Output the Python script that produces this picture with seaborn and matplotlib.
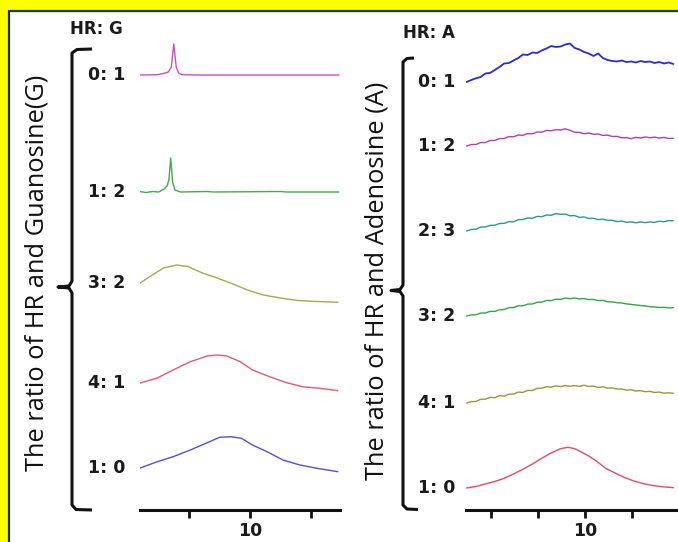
import matplotlib
matplotlib.use("Agg")
import matplotlib.pyplot as plt
from matplotlib.lines import Line2D
import numpy as np
import pandas as pd
import seaborn as sns

# ---------------- data ----------------
# HR : Guanosine (G) panel, 2-theta positions and intensities (a.u.)
g_labels = ["0: 1", "1: 2", "3: 2", "4: 1", "1: 0"]
g_offsets = [435, 318, 227, 127, 42]
g_colors = ["#c84ec8", "#4aa84a", "#a8a850", "#e25a6a", "#5050d8"]

g01_x = [1.0, 2.4, 2.9, 3.3, 3.55, 3.75, 3.95, 4.15, 4.4, 6.0, 17.3]
g01_y = [0, 0.3, 1.5, 3, 8, 31, 8, 2, 0.3, 0, 0]

g12_x = [1.0, 1.5, 2.0, 2.5, 2.9, 3.2, 3.35, 3.5, 3.65, 3.85, 4.3, 6.5, 7.0, 12.5, 13.0, 17.3]
g12_y = [0.3, -0.5, 0.5, 0, 2.5, 6, 12, 34, 10, 2, 0, 0.5, 0, 0.5, 0, 0]

g32_x = [1.0, 1.8, 2.9, 4.0, 4.9, 6.1, 7.3, 8.4, 9.8, 11.1, 12.5, 13.9, 15.5, 17.2]
g32_y = [0, 6.5, 15, 18, 16.5, 10, 5, 0, -7, -12, -15, -17.5, -18.5, -19.3]

g41_x = [1.0, 2.4, 3.7, 5.1, 6.5, 7.3, 8.1, 9.2, 10.2, 11.6, 13.0, 14.3, 15.7, 17.2]
g41_y = [0, 5, 13, 21.3, 27, 28, 27, 21.3, 13, 6.3, 0.3, -3.7, -5.3, -7.7]

g10_x = [1.0, 2.4, 3.7, 5.1, 6.5, 7.5, 8.4, 9.3, 10.2, 11.4, 12.7, 14.1, 15.5, 17.2]
g10_y = [0, 6.3, 11.3, 18, 25.3, 30.7, 31.3, 29.7, 23, 16.3, 8, 3, -0.3, -3.7]

g_series = [(g01_x, g01_y), (g12_x, g12_y), (g32_x, g32_y), (g41_x, g41_y), (g10_x, g10_y)]
g_ticks = [5, 10, 15]

# HR : Adenosine (A) panel
a_labels = ["0: 1", "1: 2", "2: 3", "3: 2", "4: 1", "1: 0"]
a_offsets = [428, 364, 279, 194, 107, 22]
a_colors = ["#2a2ad6", "#b23cb2", "#2a9a8e", "#34a448", "#98983a", "#e44a66"]
a_widths = [1.3, 1.0, 1.0, 1.0, 1.0, 1.0]

a_x = [3.7, 3.95, 4.2, 4.45, 4.7, 4.95, 5.2, 5.45, 5.7, 5.95, 6.2, 6.45, 6.7, 6.95, 7.2,
       7.45, 7.7, 7.95, 8.2, 8.45, 8.7, 8.95, 9.2, 9.45, 9.7, 9.95, 10.2, 10.45, 10.7, 10.95,
       11.2, 11.45, 11.7, 11.95, 12.2, 12.45, 12.7, 12.95, 13.2, 13.45, 13.7, 13.95, 14.2,
       14.45, 14.7]
a01_y = [0, 2, 3.7, 5, 8.5, 9, 12, 15, 18.5, 19, 21.5, 24, 27.5, 27, 29.5, 29, 31.5, 33.5,
         36, 35, 35.5, 37.5, 38.5, 34, 32.5, 30, 28.5, 26, 28.5, 24, 22, 21, 20.5, 21.5, 20,
         20.5, 19.5, 21, 20, 20.5, 19, 20, 18.5, 19.5, 18]
a12_y = [0, 1.5, 1.5, 3.5, 3.4, 5.5, 5.5, 7.4, 7.5, 9.4, 9.2, 11.0, 10.7, 12.4, 12.2, 13.9,
         13.9, 15.6, 15.2, 16.4, 16.0, 17.2, 15.6, 13.8, 13.6, 12.3, 12.9, 11.7, 12.0, 10.6,
         10.9, 9.5, 9.6, 8.2, 8.4, 7.3, 8.6, 8.0, 9.0, 8.2, 8.9, 7.9, 8.6, 7.5, 7.7]
a23_y = [0, 1.6, 1.8, 3.9, 4.1, 5.6, 5.7, 7.5, 7.6, 9.4, 9.2, 11.3, 11.5, 13.0, 12.7, 14.6,
         14.3, 16.0, 15.7, 17.4, 16.7, 16.9, 15.2, 15.4, 13.6, 14.0, 12.5, 12.7, 11.4, 11.8,
         10.6, 10.7, 9.4, 9.9, 8.7, 9.1, 8.2, 9.0, 8.4, 9.0, 8.6, 9.8, 9.2, 10.4, 10.2]
a32_y = [0, 1.1, 1.2, 2.9, 3.0, 4.6, 4.6, 6.2, 6.5, 8.3, 8.5, 10.2, 10.2, 11.9, 12.0, 13.7,
         13.9, 15.5, 15.4, 16.8, 16.6, 17.9, 17.3, 18.0, 17.1, 17.4, 16.5, 16.5, 15.4, 15.6,
         14.3, 14.1, 13.3, 13.0, 12.1, 11.6, 11.0, 10.5, 10.0, 9.3, 9.1, 8.5, 8.7, 8.1, 8.4]
a41_y = [0, 1.3, 1.6, 3.7, 3.9, 5.6, 5.3, 7.2, 6.9, 8.7, 8.9, 10.9, 10.6, 12.6, 12.5, 14.6,
         14.8, 16.3, 15.8, 17.2, 16.4, 17.5, 16.7, 17.4, 16.6, 17.8, 16.6, 16.9, 15.6, 16.2,
         14.9, 15.1, 13.9, 14.0, 12.9, 13.2, 12.0, 12.4, 11.3, 11.6, 10.5, 10.9, 9.8, 10.2, 9.7]
a10_x = [3.7, 4.2, 4.7, 5.2, 5.7, 6.2, 6.7, 7.2, 7.7, 8.2, 8.7, 9.1, 9.45, 9.8, 10.2, 10.6,
         11.1, 11.6, 12.1, 12.6, 13.1, 13.6, 14.1, 14.7]
a10_y = [0, 1.5, 4, 6.5, 9.7, 14, 18.8, 24, 29.7, 35, 39.3, 40.7, 39.3, 36, 32, 27, 19.7,
         15, 10.5, 7, 4.3, 2.5, 1.3, 0.3]

a_series = [(a_x, a01_y), (a_x, a12_y), (a_x, a23_y), (a_x, a32_y), (a_x, a41_y), (a10_x, a10_y)]
a_ticks = [5, 7.5, 10, 12.5]

# ---------------- figure ----------------
sns.set_theme(style="white")
plt.rcParams["font.family"] = ["Open Sans", "DejaVu Sans"]

W, H = 678, 542
fig = plt.figure(figsize=(W / 100, H / 100), dpi=100)
fig.patch.set_facecolor("#ffff00")


def fx(px):
    return px / W


def fy(py):
    return 1 - py / H


# white card with dark frame on top/left
fig.add_artist(plt.Rectangle((fx(9), 0), 1 - fx(9), fy(11), transform=fig.transFigure,
                             facecolor="white", edgecolor="none", zorder=0))
fig.add_artist(Line2D([fx(9), fx(9)], [0, fy(11)], transform=fig.transFigure,
                      color="#1e3440", lw=1.6))
fig.add_artist(Line2D([fx(9), 1], [fy(11), fy(11)], transform=fig.transFigure,
                      color="#1e3440", lw=1.6))


def make_panel(rect, xlim, ticks, series, offsets, colors, labels, label_gap, widths=None):
    ax = fig.add_axes(rect)
    ax.patch.set_alpha(0)
    widths = widths or [1.0] * len(series)
    for (xs, ys), off, col, lab, lw in zip(series, offsets, colors, labels, widths):
        df = pd.DataFrame({"x": xs, "y": np.asarray(ys, float) + off})
        sns.lineplot(data=df, x="x", y="y", ax=ax, color=col, lw=lw, sort=False)
        ax.annotate(lab, xy=(xs[0], ys[0] + off), xytext=(-label_gap, 0),
                    textcoords="offset points", ha="right", va="center",
                    fontsize=12.5, fontweight="bold", color="#1a1a1a",
                    family="DejaVu Sans")
    ax.set_xlim(*xlim)
    ax.set_ylim(0, 480)
    ax.set_xlabel("")
    ax.set_ylabel("")
    ax.set_yticks([])
    ax.set_xticks(ticks)
    ax.set_xticklabels(["10" if t == 10 else "" for t in ticks])
    for s in ("top", "right", "left"):
        ax.spines[s].set_visible(False)
    ax.spines["bottom"].set_color("#111111")
    ax.spines["bottom"].set_linewidth(2.2)
    ax.tick_params(axis="x", direction="out", length=6, width=2, color="#111111",
                   bottom=True, pad=3, labelsize=12.5, labelcolor="#1a1a1a")
    for t in ax.get_xticklabels():
        t.set_fontweight("bold")
        t.set_family("DejaVu Sans")
    return ax


ax_g = make_panel([fx(140), fy(510), fx(340) - fx(140), fy(30) - fy(510)],
                  (0.98, 17.38), g_ticks, g_series, g_offsets, g_colors, g_labels, 11)
ax_a = make_panel([fx(466), fy(510), fx(676) - fx(466), fy(30) - fy(510)],
                  (3.67, 14.84), a_ticks, a_series, a_offsets, a_colors, a_labels, 8,
                  a_widths)

# panel titles
fig.text(fx(70), fy(29), "HR: G", fontsize=12, fontweight="bold", color="#1a1a1a",
         ha="left", va="center", family="DejaVu Sans")
fig.text(fx(403), fy(33), "HR: A", fontsize=12, fontweight="bold", color="#1a1a1a",
         ha="left", va="center", family="DejaVu Sans")

# axis titles
fig.text(fx(37), fy(273), "The ratio of HR and Guanosine(G)", rotation=90,
         fontsize=18.3, color="#111111", ha="center", va="center")
fig.text(fx(377), fy(281), "The ratio of HR and Adenosine (A)", rotation=90,
         fontsize=18.3, color="#111111", ha="center", va="center")


# curly brackets grouping the traces
def bracket(points):
    xs = [fx(p[0]) for p in points]
    ys = [fy(p[1]) for p in points]
    fig.add_artist(Line2D(xs, ys, transform=fig.transFigure, color="#111111", lw=2.2,
                          solid_joinstyle="round", solid_capstyle="butt"))


bracket([(92, 49), (77, 49.5), (72, 53), (72, 281), (69, 286), (58, 287), (69, 288),
         (72, 293), (72, 505), (76, 509.5), (92, 510)])
bracket([(414, 58), (407, 58.5), (403, 62), (403, 285), (400, 289.5), (391, 290.5),
         (400, 291.5), (403, 296), (403, 505), (407, 509), (418, 509.5)])

fig.savefig("out.png", dpi=100, facecolor=fig.get_facecolor())
